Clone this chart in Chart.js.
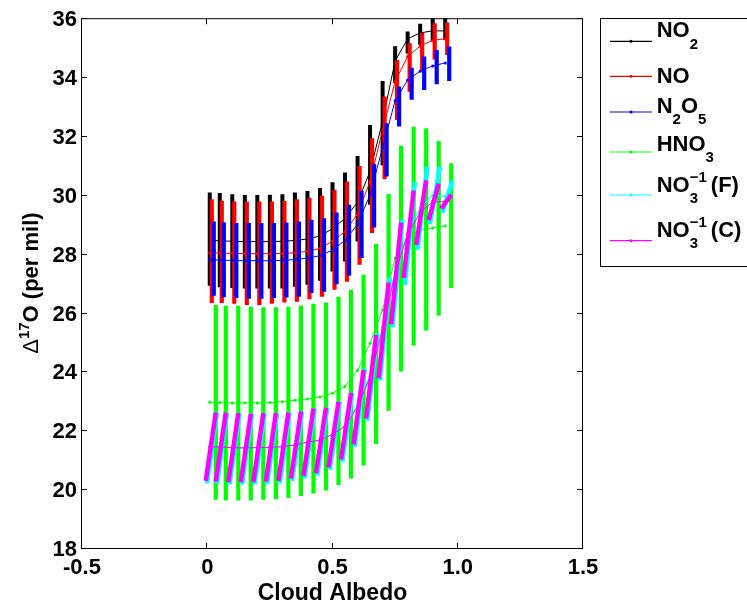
<!DOCTYPE html>
<html>
<head>
<meta charset="utf-8">
<script src="https://cdn.jsdelivr.net/npm/chart.js@4.4.1/dist/chart.umd.min.js"></script>
<style>
  html, body { margin: 0; padding: 0; background: #fff; overflow: hidden; }
  #wrap { width: 747px; height: 604px; }
</style>
</head>
<body>
<div id="wrap"><canvas id="d17o" width="747" height="604"></canvas></div>
<script>
// cloud albedo runs
const albedo = [0.01, 0.05, 0.10, 0.15, 0.20, 0.25, 0.30, 0.35, 0.40, 0.45,
                0.50, 0.55, 0.60, 0.65, 0.70, 0.75, 0.80, 0.85, 0.90, 0.95];

// D17O (per mil): base run plus low / high of the spread
const no2Line = [28.45, 28.44, 28.42, 28.41, 28.41, 28.41, 28.42, 28.45, 28.50, 28.60,
                 28.85, 29.20, 29.75, 30.80, 32.50, 34.55, 35.30, 35.50, 35.57, 35.57];
const no2Hi   = [30.08, 30.06, 30.02, 29.99, 29.99, 30.00, 30.02, 30.08, 30.13, 30.23,
                 30.43, 30.76, 31.32, 32.37, 33.87, 35.05, 35.55, 35.81, 36.20, 36.30];
const no2Lo   = [26.91, 26.86, 26.83, 26.82, 26.82, 26.82, 26.82, 26.88, 26.94, 27.08,
                 27.39, 27.73, 28.41, 29.66, 31.00, 33.80, 34.80, 35.10, 35.20, 35.26];

const noLine  = [28.03, 28.02, 28.01, 28.00, 28.00, 28.00, 28.01, 28.03, 28.08, 28.18,
                 28.42, 28.75, 29.35, 30.45, 32.20, 33.85, 34.70, 35.05, 35.25, 35.30];
const noHi    = [29.85, 29.80, 29.77, 29.77, 29.77, 29.77, 29.79, 29.85, 29.90, 29.97,
                 30.17, 30.45, 30.98, 31.92, 33.34, 34.58, 35.15, 35.50, 35.83, 35.85];
const noLo    = [26.32, 26.32, 26.30, 26.26, 26.26, 26.30, 26.34, 26.37, 26.45, 26.54,
                 26.77, 27.05, 27.62, 28.70, 30.53, 32.54, 33.50, 34.20, 34.60, 34.75];

const n2o5Line = [27.80, 27.78, 27.77, 27.76, 27.76, 27.76, 27.77, 27.80, 27.85, 27.93,
                  28.12, 28.45, 29.00, 30.00, 31.60, 33.20, 33.90, 34.20, 34.38, 34.48];
const n2o5Hi   = [29.09, 29.07, 29.04, 29.04, 29.04, 29.04, 29.06, 29.09, 29.15, 29.20,
                  29.40, 29.66, 30.14, 31.05, 32.43, 33.68, 34.32, 34.70, 34.92, 35.04];
const n2o5Lo   = [26.57, 26.52, 26.49, 26.47, 26.47, 26.49, 26.51, 26.54, 26.66, 26.71,
                  26.96, 27.25, 27.85, 28.89, 30.62, 32.32, 33.23, 33.56, 33.76, 33.87];

const hno3Line = [22.95, 22.94, 22.93, 22.93, 22.93, 22.94, 22.97, 23.02, 23.06, 23.13,
                  23.26, 23.49, 24.03, 24.96, 26.09, 27.85, 28.55, 28.82, 28.87, 28.95];
const hno3Hi   = [26.26, 26.23, 26.23, 26.20, 26.18, 26.18, 26.20, 26.24, 26.30, 26.34,
                  26.54, 26.77, 27.28, 28.33, 30.03, 31.67, 32.31, 32.25, 31.83, 31.07];
const hno3Lo   = [19.64, 19.61, 19.61, 19.61, 19.64, 19.66, 19.70, 19.77, 19.85, 19.95,
                  20.14, 20.36, 20.80, 21.53, 22.66, 24.00, 24.88, 25.39, 25.90, 26.83];

const no3fLine = [21.44, 21.43, 21.41, 21.40, 21.41, 21.42, 21.44, 21.50, 21.60, 21.66,
                  21.86, 22.14, 22.85, 23.85, 25.50, 27.40, 28.70, 29.55, 29.98, 29.95];
const no3fHi   = [22.60, 22.60, 22.58, 22.56, 22.58, 22.58, 22.60, 22.64, 22.74, 22.77,
                  22.97, 23.27, 24.10, 25.30, 27.20, 29.15, 30.43, 30.96, 30.96, 30.48];
const no3fLo   = [20.20, 20.18, 20.16, 20.16, 20.16, 20.18, 20.20, 20.28, 20.37, 20.46,
                  20.66, 20.93, 21.44, 22.32, 23.69, 25.50, 26.94, 28.13, 29.00, 29.40];

const no3cLine = [21.44, 21.43, 21.41, 21.40, 21.41, 21.42, 21.44, 21.50, 21.60, 21.66,
                  21.86, 22.14, 22.79, 23.82, 25.40, 27.33, 28.66, 29.40, 29.76, 29.77];
const no3cHi   = [22.60, 22.60, 22.58, 22.56, 22.58, 22.58, 22.60, 22.64, 22.74, 22.77,
                  22.97, 23.27, 24.05, 25.24, 27.02, 29.06, 30.15, 30.49, 30.38, 30.00];
const no3cLo   = [20.28, 20.26, 20.24, 20.24, 20.24, 20.26, 20.28, 20.36, 20.45, 20.54,
                  20.74, 21.01, 21.52, 22.40, 23.77, 25.60, 27.17, 28.30, 29.14, 29.53];

const xTicks = [-0.5, 0, 0.5, 1, 1.5];
const yTicks = [18, 20, 22, 24, 26, 28, 30, 32, 34, 36];

const FONT = "'Liberation Sans', Arial, Helvetica, sans-serif";

// each species: bar spread is nudged sideways so the bars do not hide each other,
// the nitrate bars lean (dxLo at the bottom end, dxHi at the top end)
const species = [
  { color: '#000000', line: no2Line,  lo: no2Lo,  hi: no2Hi,  dxLo: 0,      dxHi: 0,     w: 4 },
  { color: '#ff0000', line: noLine,   lo: noLo,   hi: noHi,   dxLo: 0.008,  dxHi: 0.008, w: 4.2 },
  { color: '#0000ff', line: n2o5Line, lo: n2o5Lo, hi: n2o5Hi, dxLo: 0.016,  dxHi: 0.016, w: 4.2 },
  { color: '#00ff00', line: hno3Line, lo: hno3Lo, hi: hno3Hi, dxLo: 0.024,  dxHi: 0.024, w: 4.2 },
  { color: '#00ffff', line: no3fLine, lo: no3fLo, hi: no3fHi, dxLo: -0.011, dxHi: 0.029, w: 4.5 },
  { color: '#ff00ff', line: no3cLine, lo: no3cLo, hi: no3cHi, dxLo: -0.016, dxHi: 0.024, w: 4.5 }
];

// legend labels as runs: [text, kind]  kind 0 normal, 1 subscript, 2 superscript, 3 subscript stacked under next
const legendLabels = [
  [['NO', 0], ['2', 1]],
  [['NO', 0]],
  [['N', 0], ['2', 1], ['O', 0], ['5', 1]],
  [['HNO', 0], ['3', 1]],
  [['NO', 0], ['3', 3], ['\u22121', 2], ['(F)', 0]],
  [['NO', 0], ['3', 3], ['\u22121', 2], ['(C)', 0]]
];
const legendLineY = [41.3, 76.3, 112, 152, 195, 240.7];
const legendBaseY = [37.3, 83.3, 112.7, 150.7, 191.7, 236.7];

function spreadPoints(s) {
  const pts = [];
  albedo.forEach((a, i) => {
    pts.push({ x: a + s.dxLo, y: s.lo[i] });
    pts.push({ x: a + s.dxHi, y: s.hi[i] });
    pts.push({ x: a + s.dxHi, y: null });
  });
  return pts;
}

const datasets = [];
const total = species.length * 2;
species.forEach((s, k) => {
  datasets.push({
    data: spreadPoints(s),
    borderColor: s.color,
    borderWidth: s.w,
    borderCapStyle: 'butt',
    pointRadius: 0,
    spanGaps: false,
    clip: 0,
    order: total - 2 * k
  });
  datasets.push({
    data: albedo.map((a, i) => ({ x: a, y: s.line[i] })),
    borderColor: s.color,
    borderWidth: 1,
    pointRadius: 1.5,
    pointBorderWidth: 0,
    pointBackgroundColor: s.color,
    clip: 0,
    order: total - 2 * k - 1
  });
});

function drawRuns(ctx, runs, x, base) {
  runs.forEach(([t, kind]) => {
    if (kind === 0) {
      ctx.font = 'bold 22px ' + FONT;
      ctx.fillText(t, x, base);
      x += ctx.measureText(t).width;
    } else {
      ctx.font = 'bold 15px ' + FONT;
      const dy = kind === 2 ? -9.3 : 11.5;
      ctx.fillText(t, x, base + dy);
      if (kind !== 3) x += ctx.measureText(t).width + (kind === 2 ? 4 : 0);
    }
  });
}

const frame = {
  id: 'frame',
  afterDraw(chart) {
    const { ctx, chartArea: a, scales } = chart;
    const L = a.left - 0.5, R = a.right - 0.5, T = a.top + 0.5, B = a.bottom + 0.5;
    ctx.save();
    ctx.strokeStyle = '#000';
    ctx.lineWidth = 1;
    ctx.strokeRect(L, T, R - L, B - T);
    ctx.beginPath();
    scales.x.ticks.forEach(t => {
      const px = Math.round(scales.x.getPixelForValue(t.value)) - 0.5;
      ctx.moveTo(px, B); ctx.lineTo(px, B - 5.5);
      ctx.moveTo(px, T); ctx.lineTo(px, T + 5.5);
    });
    scales.y.ticks.forEach(t => {
      const py = Math.round(scales.y.getPixelForValue(t.value)) + 0.5;
      ctx.moveTo(L, py); ctx.lineTo(L + 5.5, py);
      ctx.moveTo(R, py); ctx.lineTo(R - 5.5, py);
    });
    ctx.stroke();

    ctx.fillStyle = '#000';
    ctx.textBaseline = 'alphabetic';

    // x axis title
    ctx.font = 'bold 23px ' + FONT;
    ctx.textAlign = 'center';
    ctx.fillText('Cloud Albedo', (a.left + a.right) / 2, 600);

    // y axis title, rotated
    ctx.textAlign = 'left';
    ctx.save();
    ctx.translate(38, (a.top + a.bottom) / 2);
    ctx.rotate(-Math.PI / 2);
    ctx.font = '22px ' + FONT;
    const wD = ctx.measureText('\u0394').width;
    ctx.font = 'bold 15px ' + FONT;
    const wS = ctx.measureText('17').width;
    ctx.font = 'bold 22px ' + FONT;
    const wT = ctx.measureText('O (per mil)').width;
    let x0 = -(wD + wS + wT) / 2;
    ctx.font = '22px ' + FONT;
    ctx.fillText('\u0394', x0, 0);
    x0 += wD;
    ctx.font = 'bold 15px ' + FONT;
    ctx.fillText('17', x0, -9);
    x0 += wS;
    ctx.font = 'bold 22px ' + FONT;
    ctx.fillText('O (per mil)', x0, 0);
    ctx.restore();

    // legend box runs past the right edge of the figure
    ctx.fillStyle = '#fff';
    ctx.fillRect(600.5, 18.5, 160, 248);
    ctx.strokeStyle = '#000';
    ctx.strokeRect(600.5, 18.5, 160, 248);
    species.forEach((s, k) => {
      const ly = legendLineY[k];
      ctx.strokeStyle = s.color;
      ctx.lineWidth = 1.2;
      ctx.beginPath();
      ctx.moveTo(610, ly);
      ctx.lineTo(652, ly);
      ctx.stroke();
      ctx.fillStyle = s.color;
      ctx.beginPath();
      ctx.arc(631, ly, 1.5, 0, Math.PI * 2);
      ctx.fill();
      ctx.fillStyle = '#000';
      drawRuns(ctx, legendLabels[k], 656.7, legendBaseY[k]);
    });
    ctx.restore();
  }
};

new Chart(document.getElementById('d17o'), {
  type: 'line',
  data: { datasets },
  options: {
    responsive: false,
    devicePixelRatio: 1,
    animation: false,
    events: [],
    layout: { padding: { left: 0, right: 164, top: 18, bottom: 0 } },
    plugins: { legend: { display: false }, tooltip: { enabled: false } },
    elements: { line: { tension: 0 } },
    scales: {
      x: {
        type: 'linear',
        min: -0.5,
        max: 1.5,
        afterBuildTicks: s => { s.ticks = xTicks.map(v => ({ value: v })); },
        afterFit: s => { s.height = 56; },
        grid: { display: false, drawTicks: false },
        border: { display: false },
        ticks: { color: '#000', padding: 7, maxRotation: 0, font: { family: FONT, size: 22, weight: 'bold' } }
      },
      y: {
        type: 'linear',
        min: 18,
        max: 36,
        afterBuildTicks: s => { s.ticks = yTicks.map(v => ({ value: v })); },
        afterFit: s => { s.width = 82; },
        grid: { display: false, drawTicks: false },
        border: { display: false },
        ticks: { color: '#000', padding: 5, labelOffset: 2, font: { family: FONT, size: 22, weight: 'bold' } }
      }
    }
  },
  plugins: [frame]
});
</script>
</body>
</html>
